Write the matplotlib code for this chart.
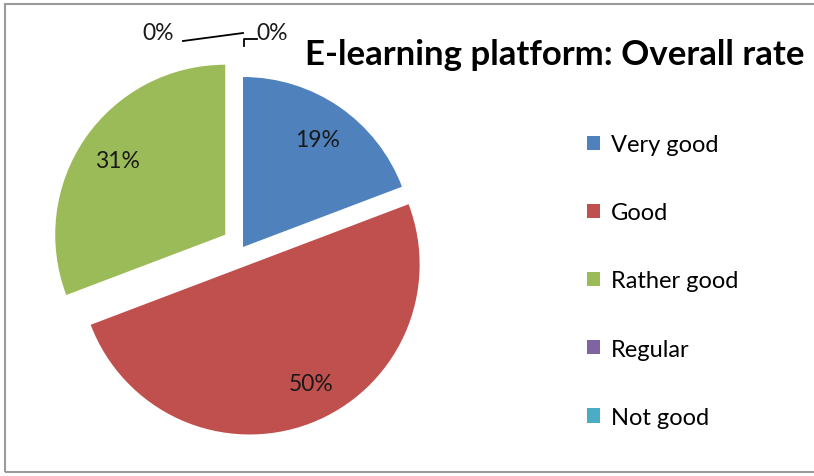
import matplotlib.pyplot as plt
from matplotlib.patches import Rectangle

# data
categories = ['Very good', 'Good', 'Rather good', 'Regular', 'Not good']
counts = [5, 13, 8, 0, 0]
colors = ['#4F81BD', '#C0504D', '#9BBB59', '#8064A2', '#4BACC6']
explode_frac = [0.0, 0.11, 0.127, 0.0, 0.0]

W, H = 814, 477
R = 170

def pct_label(p):
    if p < 0.5:
        return ''
    return '%d%%' % round(p)

fig = plt.figure(figsize=(W / 100, H / 100), dpi=100)
ax = fig.add_axes([0, 0, 1, 1])
ax.set_xlim(0, W)
ax.set_ylim(0, H)
ax.set_aspect('equal')
ax.axis('off')

plt.rcParams['font.family'] = ['Lato', 'DejaVu Sans']

# chart border (right side is cut off in the original)
ax.add_patch(Rectangle((5, 4), W + 20, H - 9, fill=False,
                       edgecolor='#9A9A9A', linewidth=1.5))

# explode in matplotlib is in data units, so scale by the radius
wedges, texts, autotexts = ax.pie(
    counts, colors=colors, explode=[e * R for e in explode_frac],
    startangle=90, counterclock=False, center=(243, 229), radius=R,
    autopct=pct_label, pctdistance=0.77,
    textprops={'fontsize': 16.5, 'color': '#1a1a1a'},
    wedgeprops={'linewidth': 0})
ax.set_xlim(0, W)
ax.set_ylim(0, H)

# the "Good" label sits a bit to the right of the bisector in the original
x, y = autotexts[1].get_position()
autotexts[1].set_position((x + 15, y + 3))

# labels for the empty slices, dragged above the pie
zero_pct = [100.0 * c / sum(counts) for c in counts[3:]]
ax.text(158, 443, '%d%%' % zero_pct[0], fontsize=16.5, ha='center', va='center', color='#1a1a1a')
ax.text(272, 443, '%d%%' % zero_pct[1], fontsize=16.5, ha='center', va='center', color='#1a1a1a')
ax.plot([183, 243], [435, 443], color='black', lw=1.3)
ax.plot([257, 244, 244], [437, 437, 430], color='black', lw=1.3)

ax.text(555, 422, 'E-learning platform: Overall rate', fontsize=25,
        fontweight='bold', ha='center', va='center', color='black')

ax.legend(wedges, categories, loc='center left', bbox_to_anchor=(587, 195),
          bbox_transform=ax.transData, frameon=False, fontsize=17,
          handlelength=0.55, handleheight=0.55, handletextpad=0.45,
          labelspacing=2.0, borderpad=0, borderaxespad=0)

fig.savefig('out.png', dpi=100)
